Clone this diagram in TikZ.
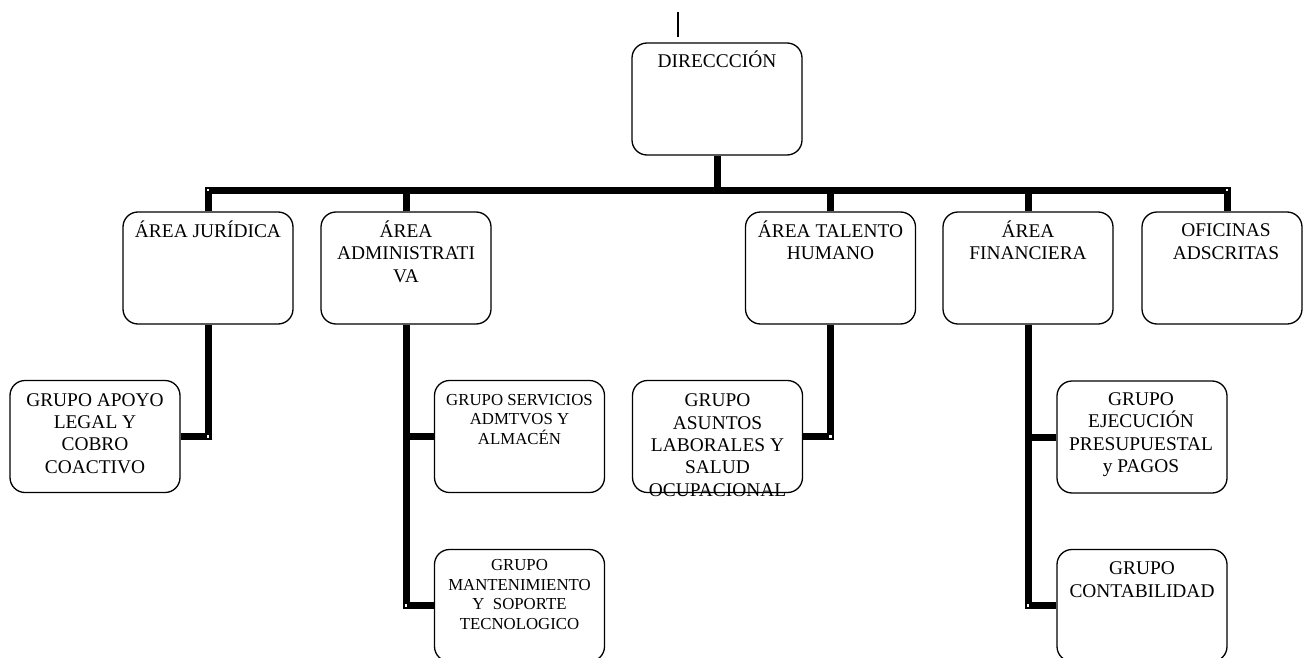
\documentclass[tikz,border=0pt]{standalone}
\usepackage{fontspec}
\setmainfont{Liberation Serif}
\begin{document}
\begin{tikzpicture}[x=1pt,y=-1pt,
  box/.style={draw=black, line width=1.3pt, rounded corners=15pt,
    minimum width=170pt, minimum height=112pt, inner sep=0pt, fill=white},
  % labels sit on the baseline of their last line
  lbl/.style={anchor=base, align=center, inner sep=0pt,
    font=\fontsize{19.4}{22.3}\selectfont},
  lblsmall/.style={anchor=base, align=center, inner sep=0pt,
    font=\fontsize{16.8}{19.7}\selectfont},
  conn/.style={line width=7pt, line join=miter, line cap=butt},
  tick/.style={fill=white, minimum size=2.2pt, inner sep=0pt}
]
\useasboundingbox (0,0) rectangle (1303,658);

% boxes
\node[box] (dir) at (717,99) {};
\node[box] (jur) at (208,268) {};
\node[box] (adm) at (406,268) {};
\node[box] (tal) at (830.5,268) {};
\node[box] (fin) at (1028,268) {};
\node[box, minimum width=160pt] (ofi) at (1222,268) {};
\node[box] (apo) at (95,436.5) {};
\node[box] (ser) at (519.5,436.5) {};
\node[box] (man) at (519.5,605.5) {};
\node[box] (asu) at (717.5,436.5) {};
\node[box] (eje) at (1142,437) {};
\node[box] (con) at (1142,605.5) {};

% reference levels
\coordinate (barlevel) at (0,190);
\coordinate (ofiTop) at ([xshift=5pt]ofi.north);
\coordinate (topA) at (678,11.7);
\coordinate (topB) at (678,37.3);

% short line above the top box
\draw[line width=2.5pt] (topA) -- (topB);

% main bar and its stems
\draw[conn] (jur.north) -- (jur.north |- barlevel) -- (ofiTop |- barlevel) -- (ofiTop);
\draw[conn] (dir.south) -- (dir.south |- barlevel);
\draw[conn] (adm.north) -- (adm.north |- barlevel);
\draw[conn] (tal.north) -- (tal.north |- barlevel);
\draw[conn] (fin.north) -- (fin.north |- barlevel);

% second-level connectors
\draw[conn] (jur.south) |- (apo.east);
\draw[conn] (adm.south) |- (man.west);
\draw[conn] (adm.south |- ser.west) -- (ser.west);
\draw[conn] (tal.south) |- (asu.east);
\draw[conn] (fin.south) |- (con.west);
\draw[conn] (fin.south |- eje.west) -- (eje.west);

% small light marks at the connector corners
\node[tick] (k1) at (jur.north |- barlevel) {};
\node[tick] (k2) at (ofiTop |- barlevel) {};
\node[tick] (k3) at (jur.south |- apo.east) {};
\node[tick] (k4) at (tal.south |- asu.east) {};
\node[tick] (k5) at (adm.south |- man.west) {};
\node[tick] (k6) at (fin.south |- con.west) {};

% labels
\node[lbl] (dirT) at (717,68) {DIRECCCIÓN};
\node[lbl] (jurT) at (208,237.5) {ÁREA JURÍDICA};
\node[lbl] (admT) at (406,282) {ÁREA\\ADMINISTRATI\\VA};
\node[lbl] (talT) at (830.5,259.5) {ÁREA TALENTO\\HUMANO};
\node[lbl] (finT) at (1028,259.5) {ÁREA\\FINANCIERA};
\node[lbl] (ofiT) at (1226,259) {OFICINAS\\ADSCRITAS};
\node[lbl] (apoT) at (95,473) {GRUPO APOYO\\LEGAL Y\\COBRO\\COACTIVO};
\node[lblsmall] (serT) at (519.5,444.5) {GRUPO SERVICIOS\\ADMTVOS Y\\ALMACÉN};
\node[lblsmall] (manT) at (519.5,629.5) {GRUPO\\MANTENIMIENTO\\Y\ \ SOPORTE\\TECNOLOGICO};
\node[lbl] (asuT) at (717.5,496) {GRUPO\\ASUNTOS\\LABORALES Y\\SALUD\\OCUPACIONAL};
\node[lbl] (ejeT) at (1141,472.5) {GRUPO\\EJECUCIÓN\\PRESUPUESTAL\\y PAGOS};
\node[lbl] (conT) at (1142,597) {GRUPO\\CONTABILIDAD};
\end{tikzpicture}
\end{document}
